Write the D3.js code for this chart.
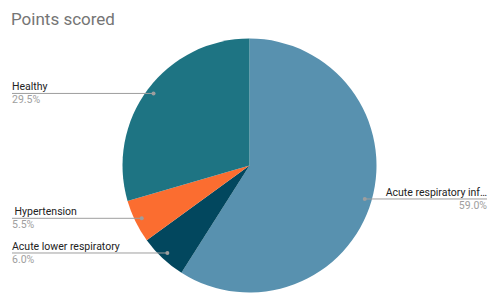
<!DOCTYPE html>
<html>
<head>
<meta charset="utf-8">
<script src="https://cdn.jsdelivr.net/npm/d3@7"></script>
<style>
  body { margin: 0; background: #fff; }
  svg text { font-family: Roboto, Arial, sans-serif; white-space: pre; }
</style>
</head>
<body>
<div id="chart"></div>
<script>
const categories = ['Acute respiratory infection', 'Acute lower respiratory', ' Hypertension', 'Healthy'];
const values = [59.0, 6.0, 5.5, 29.5];
const colors = ['#5891af', '#02475e', '#fb6d30', '#1e7483'];

const width = 500, height = 305;
const cx = 249.5, cy = 165.5, radius = 127;

const svg = d3.select('#chart').append('svg')
  .attr('width', width)
  .attr('height', height);

// title
svg.append('text')
  .attr('x', 11)
  .attr('y', 25)
  .attr('font-size', 17)
  .attr('fill', '#757575')
  .text('Points scored');

const data = categories.map((c, i) => ({ name: c, value: values[i], color: colors[i] }));

const pie = d3.pie().value(d => d.value).sort(null);
const arcs = pie(data);
const arc = d3.arc().innerRadius(0).outerRadius(radius);
const dotArc = d3.arc().innerRadius(radius * 0.945).outerRadius(radius * 0.945);

const g = svg.append('g').attr('transform', `translate(${cx},${cy})`);

g.selectAll('path')
  .data(arcs)
  .join('path')
  .attr('d', arc)
  .attr('fill', d => d.data.color);

const fmt = d3.format('.1f');

// labels with leader lines
arcs.forEach(a => {
  const [dx, dy] = dotArc.centroid(a);
  const px = cx + dx, py = cy + dy;
  const right = dx > 0;
  const endX = right ? 487 : 12;

  svg.append('line')
    .attr('x1', px).attr('y1', py)
    .attr('x2', endX).attr('y2', py)
    .attr('stroke', '#9e9e9e')
    .attr('stroke-width', 1);

  svg.append('circle')
    .attr('cx', px).attr('cy', py).attr('r', 2)
    .attr('fill', '#9e9e9e');

  const name = svg.append('text')
    .attr('x', endX)
    .attr('y', py - 3)
    .attr('font-size', 10.5)
    .attr('fill', '#222')
    .attr('text-anchor', right ? 'end' : 'start')
    .text(a.data.name);

  // shorten long names like the original (less room on the right)
  const maxW = right ? 104 : 120;
  let txt = a.data.name;
  while (name.node().getComputedTextLength() > maxW && txt.length > 3) {
    txt = txt.slice(0, -1);
    name.text(txt.trimEnd() + '…');
  }

  svg.append('text')
    .attr('x', endX)
    .attr('y', py + 10)
    .attr('font-size', 10.5)
    .attr('fill', '#9e9e9e')
    .attr('text-anchor', right ? 'end' : 'start')
    .text(fmt(a.data.value) + '%');
});
</script>
</body>
</html>
